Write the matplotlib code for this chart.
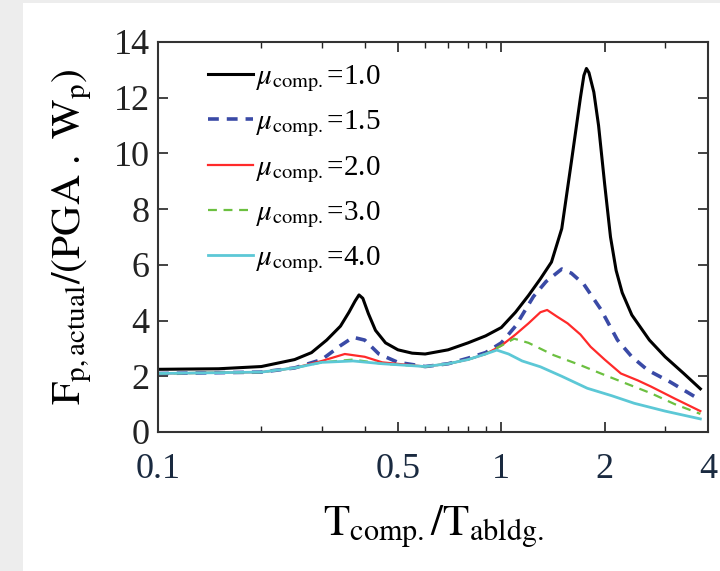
import matplotlib
matplotlib.use('Agg')
import matplotlib.pyplot as plt
from matplotlib.patches import Rectangle
from matplotlib.ticker import FixedLocator, FixedFormatter, NullFormatter

plt.rcParams['font.family'] = ['Liberation Serif', 'DejaVu Serif']
plt.rcParams['mathtext.fontset'] = 'stix'

# mu_comp = 1.0
x_10 = [0.1, 0.15, 0.2, 0.25, 0.28, 0.31, 0.34, 0.36, 0.375, 0.385, 0.395, 0.41, 0.43, 0.46,
        0.5, 0.55, 0.6, 0.7, 0.8, 0.9, 1.0, 1.1, 1.2, 1.3, 1.4, 1.5, 1.6, 1.7, 1.74, 1.77, 1.8,
        1.86, 1.92, 2.0, 2.08, 2.16, 2.25, 2.4, 2.7, 3.0, 3.4, 3.8]
y_10 = [2.25, 2.27, 2.35, 2.6, 2.85, 3.3, 3.8, 4.3, 4.7, 4.92, 4.8, 4.25, 3.65, 3.2,
        2.95, 2.83, 2.8, 2.95, 3.2, 3.45, 3.75, 4.3, 4.9, 5.5, 6.1, 7.3, 9.7, 12.0, 12.8, 13.05, 12.9,
        12.2, 11.0, 8.9, 7.0, 5.8, 5.0, 4.2, 3.3, 2.7, 2.1, 1.55]

# mu_comp = 1.5
x_15 = [0.1, 0.2, 0.25, 0.3, 0.34, 0.37, 0.4, 0.44, 0.5, 0.6, 0.7, 0.8, 0.9, 1.0, 1.1,
        1.24, 1.35, 1.5, 1.6, 1.74, 1.95, 2.18, 2.4, 2.67, 3.1, 3.8]
y_15 = [2.1, 2.15, 2.3, 2.6, 3.1, 3.4, 3.3, 2.8, 2.5, 2.35, 2.45, 2.65, 2.85, 3.2, 3.8,
        4.86, 5.4, 5.85, 5.7, 5.3, 4.4, 3.3, 2.7, 2.22, 1.8, 1.15]

# mu_comp = 2.0
x_20 = [0.1, 0.2, 0.25, 0.3, 0.35, 0.4, 0.45, 0.6, 0.7, 0.8, 0.9, 1.0, 1.1, 1.2, 1.3,
        1.36, 1.45, 1.56, 1.7, 1.82, 2.0, 2.23, 2.5, 2.73, 3.2, 3.8]
y_20 = [2.1, 2.15, 2.3, 2.55, 2.8, 2.7, 2.5, 2.35, 2.45, 2.6, 2.8, 3.1, 3.5, 3.9, 4.3,
        4.38, 4.15, 3.9, 3.5, 3.06, 2.6, 2.1, 1.85, 1.63, 1.2, 0.75]

# mu_comp = 3.0
x_30 = [0.1, 0.2, 0.25, 0.3, 0.37, 0.45, 0.6, 0.7, 0.8, 0.9, 1.0, 1.09, 1.2, 1.42, 1.7,
        1.95, 2.3, 2.73, 3.2, 3.8]
y_30 = [2.1, 2.15, 2.3, 2.5, 2.6, 2.45, 2.35, 2.45, 2.6, 2.8, 3.1, 3.35, 3.2, 2.76, 2.4,
        2.1, 1.75, 1.39, 1.0, 0.65]

# mu_comp = 4.0
x_40 = [0.1, 0.2, 0.25, 0.3, 0.37, 0.45, 0.6, 0.7, 0.8, 0.9, 0.97, 1.05, 1.15, 1.3, 1.5,
        1.78, 2.1, 2.44, 3.0, 3.8]
y_40 = [2.1, 2.15, 2.3, 2.5, 2.55, 2.45, 2.35, 2.45, 2.6, 2.8, 2.94, 2.8, 2.55, 2.34, 2.0,
        1.57, 1.3, 1.03, 0.75, 0.47]

x_ticks = [0.1, 0.5, 1, 2, 4]
x_tick_labels = ['0.1', '0.5', '1', '2', '4']
x_minor = [0.2, 0.3, 0.4, 0.6, 0.7, 0.8, 0.9, 3]
y_ticks = [0, 2, 4, 6, 8, 10, 12, 14]

fig = plt.figure(figsize=(7.2, 5.71), dpi=100, facecolor='#ededed')
bg = Rectangle((23 / 720, 0), 1, 1 - 3 / 571, transform=fig.transFigure,
               facecolor='white', edgecolor='none', zorder=-10)
fig.add_artist(bg)
ax = fig.add_axes([158 / 720, 1 - 432 / 571, 550 / 720, 390 / 571])

ax.plot(x_10, y_10, color='black', lw=2.2, label=r'$\mu_{\rm comp.}$=1.0')
ax.plot(x_15, y_15, color='#3a4aa6', lw=2.6, ls=(0, (3, 2.2)), label=r'$\mu_{\rm comp.}$=1.5')
ax.plot(x_20, y_20, color='#ff2a2a', lw=1.6, label=r'$\mu_{\rm comp.}$=2.0')
ax.plot(x_30, y_30, color='#6cc040', lw=1.6, ls=(0, (4, 3)), label=r'$\mu_{\rm comp.}$=3.0')
ax.plot(x_40, y_40, color='#5cc8d6', lw=2.0, label=r'$\mu_{\rm comp.}$=4.0')

ax.set_xscale('log')
ax.set_xlim(0.1, 4)
ax.set_ylim(0, 14)
ax.xaxis.set_major_locator(FixedLocator(x_ticks))
ax.xaxis.set_major_formatter(FixedFormatter(x_tick_labels))
ax.xaxis.set_minor_locator(FixedLocator(x_minor))
ax.xaxis.set_minor_formatter(NullFormatter())
ax.set_yticks(y_ticks)

ax.tick_params(which='both', direction='in', top=True, right=True, labelsize=26, colors='#222222')
ax.tick_params(which='major', length=7, width=1.2)
ax.tick_params(axis='y', which='major', pad=6)
ax.tick_params(axis='x', which='major', pad=15)
ax.tick_params(which='minor', length=4, width=1.0)
ax.tick_params(axis='x', which='major', labelcolor='#1a2a40')
for s in ax.spines.values():
    s.set_linewidth(1.5)
    s.set_color('#333333')

ax.set_ylabel(r'$\mathrm{F}_{\mathrm{p,actual}}/(\mathrm{PGA\ .\ W}_{\mathrm{p}})$', fontsize=30, labelpad=14)
ax.set_xlabel(r'$\mathrm{T}_{\mathrm{comp.}}/\mathrm{T}_{\mathrm{abldg.}}$', fontsize=31, labelpad=13)

ax.legend(loc='upper left', bbox_to_anchor=(0.07, 0.975), frameon=False, fontsize=21,
          handlelength=1.55, handletextpad=0.1, labelspacing=0.5, borderaxespad=0)

fig.savefig('out.png', dpi=100, facecolor=fig.get_facecolor())
